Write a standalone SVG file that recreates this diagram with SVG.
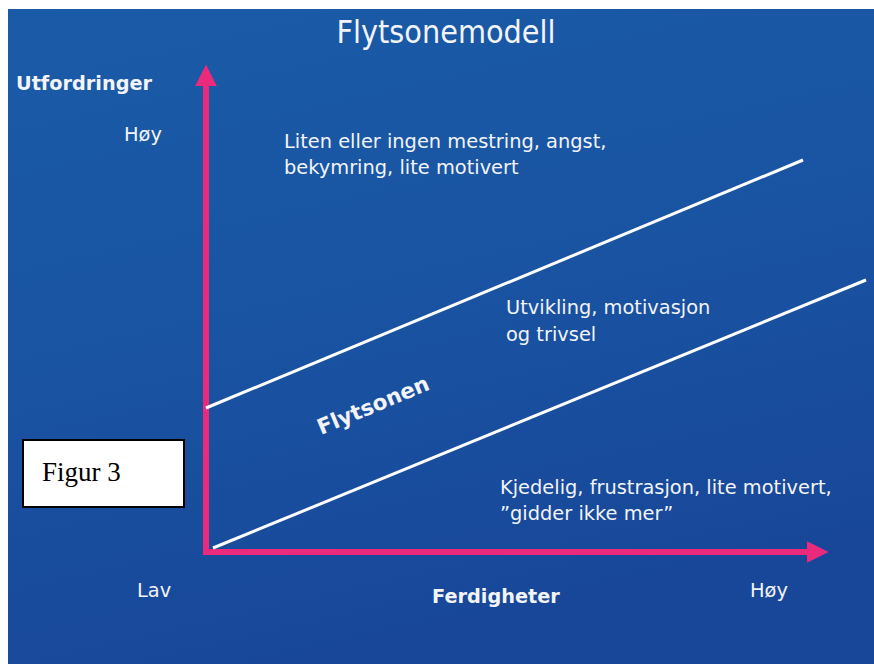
<svg xmlns="http://www.w3.org/2000/svg" width="874" height="664" viewBox="0 0 874 664">
<defs>
<linearGradient id="bg" x1="0" y1="0" x2="0.3" y2="1">
<stop offset="0" stop-color="#1a5ba7"/>
<stop offset="0.5" stop-color="#1954a2"/>
<stop offset="1" stop-color="#184799"/>
</linearGradient>
<marker id="ah" viewBox="0 0 10 10" refX="0" refY="5" markerWidth="3.8" markerHeight="3.6" markerUnits="strokeWidth" orient="auto">
<path d="M0,0 L10,5 L0,10 z" fill="#ec2a7c"/>
</marker>
<style>
.t{font-family:"DejaVu Sans",sans-serif;fill:#f2f4f8;font-size:19.4px}
.b{font-weight:bold;font-size:19.3px}
.f{font-size:21.5px}
.h{font-family:"DejaVu Sans Condensed","DejaVu Sans",sans-serif;font-size:32px}
.axis{stroke:#ec2a7c;stroke-width:6;fill:none}
.zone{stroke:#ffffff;stroke-width:3;fill:none}
</style>
</defs>
<rect x="0" y="0" width="874" height="664" fill="#ffffff"/>
<rect x="8" y="9" width="866" height="655" fill="url(#bg)"/>
<g id="connectors">
<path class="axis" d="M206,555 V86" marker-end="url(#ah)"/>
<path class="axis" d="M203,552 H807" marker-end="url(#ah)"/>
<path class="zone" d="M206,408 L803,160"/>
<path class="zone" d="M213,548 L866,280"/>
</g>
<g id="title"><text class="t h" x="446" y="43" text-anchor="middle">Flytsonemodell</text></g>
<g id="y-axis-label"><text class="t b" x="16" y="90">Utfordringer</text></g>
<g id="y-high"><text class="t" x="124" y="141">Høy</text></g>
<g id="zone-anxiety"><text class="t" x="284" y="148">Liten eller ingen mestring, angst,</text><text class="t" x="284" y="174">bekymring, lite motivert</text></g>
<g id="zone-flow-desc"><text class="t" x="506" y="314">Utvikling, motivasjon</text><text class="t" x="506" y="341">og trivsel</text></g>
<g id="zone-flow"><text class="t b f" x="321" y="435" transform="rotate(-22.6 321 435)">Flytsonen</text></g>
<g id="zone-boredom"><text class="t" x="500" y="494">Kjedelig, frustrasjon, lite motivert,</text><text class="t" x="500" y="520">”gidder ikke mer”</text></g>
<g id="x-low"><text class="t" x="137" y="597">Lav</text></g>
<g id="x-axis-label"><text class="t b" x="432" y="603">Ferdigheter</text></g>
<g id="x-high"><text class="t" x="750" y="597">Høy</text></g>
<g id="figure-label"><rect x="23" y="440" width="161" height="67" fill="#ffffff" stroke="#000000" stroke-width="2"/><text x="42" y="481" font-family="Liberation Serif,serif" font-size="27" fill="#000000">Figur 3</text></g>
</svg>
